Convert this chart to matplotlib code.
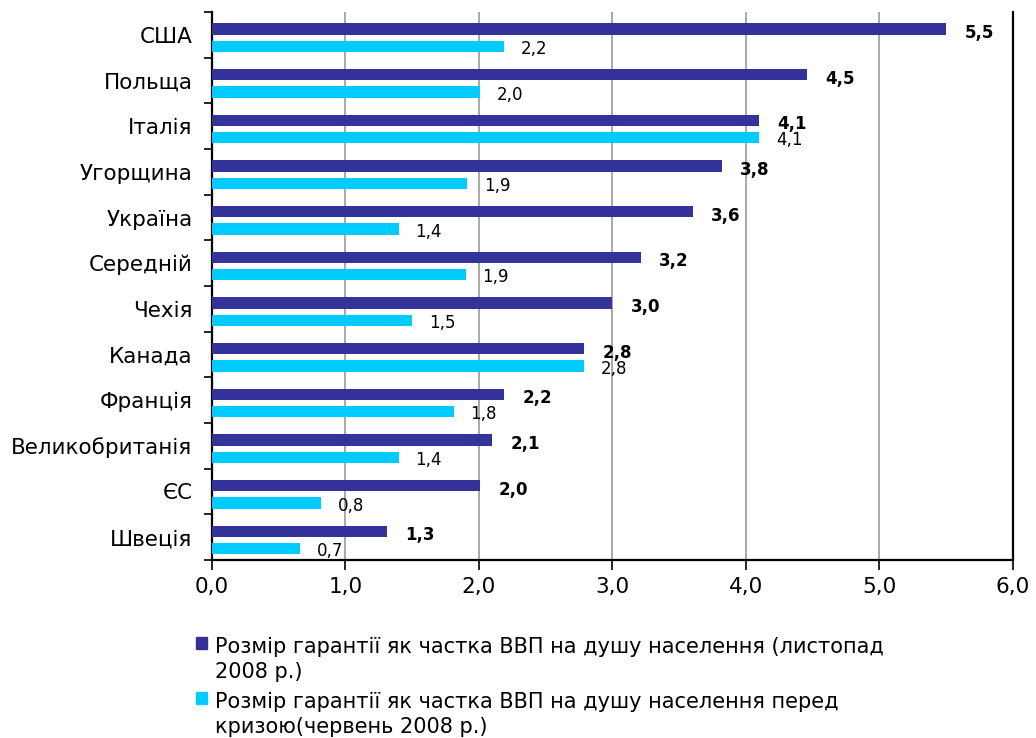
import matplotlib.pyplot as plt
import matplotlib.patches as mpatches
import numpy as np

countries = ['США', 'Польща', 'Італія', 'Угорщина', 'Україна', 'Середній',
             'Чехія', 'Канада', 'Франція', 'Великобританія', 'ЄС', 'Швеція']
nov_2008 = [5.50, 4.46, 4.10, 3.82, 3.60, 3.21, 3.00, 2.79, 2.19, 2.10, 2.01, 1.31]
jun_2008 = [2.19, 2.01, 4.10, 1.91, 1.40, 1.90, 1.50, 2.79, 1.81, 1.40, 0.82, 0.66]
legend_labels = ['Розмір гарантії як частка ВВП на душу населення (листопад\n2008 р.)',
                 'Розмір гарантії як частка ВВП на душу населення перед\nкризою(червень 2008 р.)']
xticks = [0, 1, 2, 3, 4, 5, 6]

dark = '#333399'
cyan = '#00CCFF'

plt.rcParams['font.family'] = ['DejaVu Sans']

fig = plt.figure(figsize=(10.36, 7.38), dpi=100)
ax = fig.add_axes([0.2046, 0.2412, 0.7732, 0.7425])

y = np.arange(len(countries))
h = 0.25
ax.barh(y - 0.13, nov_2008, height=h, color=dark, zorder=3)
ax.barh(y + 0.25, jun_2008, height=h, color=cyan, zorder=3)

fmt = lambda v: f'{v:.1f}'.replace('.', ',')
for yi, v in zip(y, nov_2008):
    ax.annotate(fmt(v), (v, yi - 0.13), xytext=(13, -3), textcoords='offset points',
                va='center', ha='left', fontsize=12, fontweight='bold')
for yi, v in zip(y, jun_2008):
    ax.annotate(fmt(v), (v, yi + 0.25), xytext=(12, -2), textcoords='offset points',
                va='center', ha='left', fontsize=12)

ax.set_xlim(0, 6)
ax.set_ylim(len(countries) - 0.5, -0.5)
ax.set_xticks(xticks)
ax.set_xticklabels([f'{t:.1f}'.replace('.', ',') for t in xticks], fontsize=15.5)
ax.set_yticks(y)
ax.set_yticklabels(countries, fontsize=15.5)
ax.set_yticks(np.arange(len(countries) + 1) - 0.5, minor=True)
ax.tick_params(axis='y', which='major', length=0, pad=14)
ax.tick_params(axis='y', which='minor', length=6, width=1.2, direction='out')
ax.tick_params(axis='x', length=7, width=1.2, direction='out', pad=5)

ax.grid(axis='x', color='#999999', linewidth=1.2, zorder=0)
ax.spines['top'].set_visible(False)
for s in ['left', 'bottom', 'right']:
    ax.spines[s].set_linewidth(1.6)
    ax.spines[s].set_color('black')

# legend, drawn by hand so the square sits on the first line
for i, (lab, col) in enumerate(zip(legend_labels, [dark, cyan])):
    off = i * 0.0745
    fig.patches.append(mpatches.Rectangle((0.189, 0.1206 - off), 0.0105, 0.0163,
                                          color=col, transform=fig.transFigure))
    fig.text(0.208, 0.137 - off, lab, fontsize=15, va='top', ha='left',
             linespacing=1.3)

fig.savefig('out.png', dpi=100)
